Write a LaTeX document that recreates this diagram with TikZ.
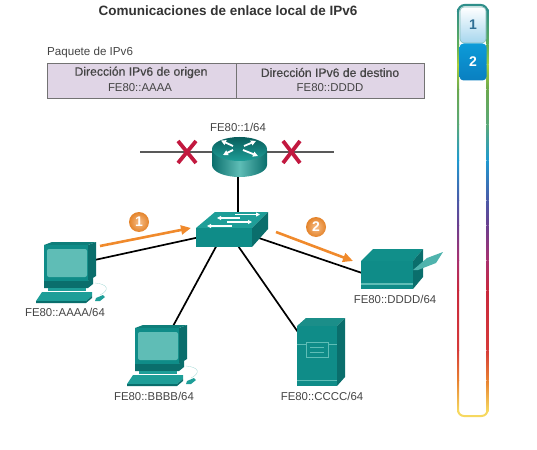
\documentclass[tikz,border=0pt]{standalone}
\usepackage{fontspec}
\setmainfont{Liberation Sans}
\usetikzlibrary{arrows.meta}
\definecolor{tealA}{HTML}{0F8C88}
\definecolor{tealB}{HTML}{1E9E98}
\definecolor{tealD}{HTML}{0A6E6C}
\definecolor{tealL}{HTML}{5FBDB6}
\definecolor{txt}{HTML}{444444}
\definecolor{orangeA}{HTML}{F08A2C}
\definecolor{crim}{HTML}{C2183F}
\definecolor{cellc}{HTML}{E0D5E6}
\tikzset{
  x=1pt,y=-1pt,
  lab/.style={font=\fontsize{11.4}{13}\selectfont,text=txt,inner sep=0pt,anchor=center},
  tabtxt/.style={lab,font=\fontsize{11.4}{13}\selectfont},
  headtxt/.style={lab,font=\fontsize{12.2}{14}\selectfont\addfontfeature{FakeBold=0.35}},
  cell/.style={draw=black!55,line width=.9pt,fill=cellc,minimum height=35pt,inner sep=0pt,anchor=north west},
  link/.style={draw=black,line width=1.7pt},
  wan/.style={draw=black!65,line width=1.6pt},
  flow/.style={draw=orangeA,line width=2.6pt,-{Triangle[length=10pt,width=9pt]}},
  badge/.style={circle,minimum size=20pt,inner sep=0pt,inner color=orangeA!55!white,outer color=orangeA!95!black,text=white,font=\bfseries\fontsize{14}{14}\selectfont},
  xmark/.style={draw=crim,line width=3.8pt},
  wharrow/.style={draw=white,line width=1.1pt,-{Triangle[length=4pt,width=4pt]}},
  rtarrow/.style={draw=white,line width=1.8pt,-{Triangle[length=5pt,width=5pt]}},
  pcdev/.pic={
    \fill[tealD] (88,245) -- (96,242) -- (96,276) -- (88,281) -- cycle;
    \fill[tealA!90!black] (44,245) -- (52,242) -- (96,242) -- (88,245) -- cycle;
    \fill[tealA] (44,245) rectangle (88,281);
    \fill[tealL,rounded corners=2pt] (47,249) rectangle (87,277);
    \fill[tealD] (44,281) -- (88,281) -- (93,277) -- (93,284) -- (88,288) -- (44,288) -- cycle;
    \fill[tealB] (48,288) rectangle (86,291);
    \fill[tealB] (42,292) -- (92,292) -- (92,296) -- (86,301) -- (36,301) -- cycle;
    \fill[tealD] (36,301) -- (86,301) -- (92,296) -- (92,298) -- (86,303) -- (36,303) -- cycle;
    \fill[tealB] (96,298) -- (103,295) -- (105,297) -- (100,301) -- (95,301) -- cycle;
    \draw[tealL!60!white,line width=.3pt] (100,295) .. controls (110,290) and (108,284) .. (95,283);
  }
}
\begin{document}
\begin{tikzpicture}
\useasboundingbox (0,0) rectangle (537,449);
% device anchors
\coordinate (rtA) at (238,170);
\coordinate (swT) at (238,215);
\coordinate (swW) at (200,237);
\coordinate (swE) at (250,235);
\coordinate (swS1) at (218,243);
\coordinate (swS2) at (236,243);
\coordinate (pcA) at (90,261);
\coordinate (pcB) at (172,328);
\coordinate (prn) at (365,274);
\coordinate (srv) at (300,335);
\coordinate (wanL) at (140,152);
\coordinate (wanR) at (334,152);
\coordinate (rtC) at (238,152);
\coordinate (f1a) at (100,246);
\coordinate (f1b) at (191,228);
\coordinate (f2a) at (276,232);
\coordinate (f2b) at (353,261);
% title and table
\node[font=\bfseries\fontsize{13.5}{15}\selectfont,text=black!80,inner sep=0pt] (title) at (228,11) {Comunicaciones de enlace local de IPv6};
\node[lab,font=\fontsize{11.6}{13}\selectfont,anchor=west] (pk) at (47,52.5) {Paquete de IPv6};
\node[cell,minimum width=189pt] (cL) at (47,63) {};
\node[cell,minimum width=188pt] (cR) at (236,63) {};
\node[headtxt] (a1) at (141,72.5) {Dirección IPv6 de origen};
\node[tabtxt] (a2) at (140,88) {FE80::AAAA};
\node[headtxt] (b1) at (330,72.5) {Dirección IPv6 de destino};
\node[tabtxt] (b2) at (330,88) {FE80::DDDD};
% links
\draw[wan] (wanL) -- (rtC);
\draw[wan] (rtC) -- (wanR);
\draw[link] (rtA) -- (swT);
\draw[link] (swW) -- (pcA);
\draw[link] (swE) -- (prn);
\draw[link] (swS1) -- (pcB);
\draw[link] (swS2) -- (srv);
% router
\shade[left color=tealD,right color=tealD,middle color=tealL] (212,150) -- (212,165) arc[start angle=180,end angle=360,x radius=27.5,y radius=-12] -- (267,150) -- cycle;
\shade[top color=tealD!85!black,bottom color=tealB] (239.5,149) ellipse[x radius=27.5,y radius=12];
\draw[rtarrow] (233,146) -- (221,140.5);
\draw[rtarrow] (243,150) -- (258,156);
\draw[rtarrow] (233,150) -- (223,155);
\draw[rtarrow] (244,146) -- (256,141);
% X marks
\draw[xmark] (178,141) -- (196,163);
\draw[xmark] (196,141) -- (178,163);
\draw[xmark] (283,141) -- (300,163);
\draw[xmark] (300,141) -- (283,163);
% switch
\fill[tealB] (196,228) -- (215,212) -- (268,212) -- (252,228) -- cycle;
\fill[tealA] (196,228) rectangle (252,247);
\fill[tealD] (252,228) -- (268,212) -- (268,229) -- (252,247) -- cycle;
\draw[wharrow] (235,214.5) -- (260,214.5);
\draw[wharrow] (240,218) -- (217,218);
\draw[wharrow] (227,222) -- (252,222);
\draw[wharrow] (232,226) -- (207,226);
% flows
\draw[flow] (f1a) -- (f1b);
\draw[flow] (f2a) -- (f2b);
\node[badge] (n1) at (139,222) {1};
\node[badge] (n2) at (316,227) {2};
% PCs
\pic (pc1) at (0,0) {pcdev};
\pic (pc2) at (91,83) {pcdev};
% printer
\fill[tealA!85!tealB] (361,261) -- (373,249) -- (423,249) -- (413,261) -- cycle;
\fill[tealD] (413,261) -- (423,249) -- (423,277) -- (413,289) -- cycle;
\fill[tealA] (361,261) rectangle (413,289);
\fill[tealL] (361,283) rectangle (413,284.5);
\fill[tealL!80!tealA] (413,270) -- (427,258) -- (443,252) -- (436,263) -- (418,270) -- cycle;
% server
\fill[tealB!90!black] (297,326) -- (306,318) -- (345,318) -- (337,326) -- cycle;
\fill[tealD] (337,326) -- (345,318) -- (345,377) -- (337,386) -- cycle;
\fill[tealA] (297,326) rectangle (337,386);
\draw[tealL,line width=.7pt] (297,344) -- (337,344);
\draw[tealL,line width=.7pt] (297,380) -- (337,380);
\draw[tealL,fill=tealA,line width=.9pt] (306,342) rectangle (328,357);
\draw[tealL,line width=.8pt] (310,347) -- (324,347);
\draw[tealL,line width=.8pt] (310,352) -- (324,352);
% labels
\node[lab] (l0) at (238,127) {FE80::1/64};
\node[lab] (l1) at (65,312) {FE80::AAAA/64};
\node[lab] (l2) at (154,396) {FE80::BBBB/64};
\node[lab] (l3) at (322,396) {FE80::CCCC/64};
\node[lab] (l4) at (395,299) {FE80::DDDD/64};
% rail
\def\railseg#1#2#3#4{%
  \shade[top color=#2,bottom color=#4] (457,#1) rectangle (459,#3);
  \shade[top color=#2,bottom color=#4] (486.5,#1) rectangle (488.5,#3);}
\definecolor{r0}{HTML}{2F8F8A}\definecolor{r1}{HTML}{5FAE5A}\definecolor{r2}{HTML}{A8CF3C}
\definecolor{r3}{HTML}{6AA84F}\definecolor{r4}{HTML}{5AA878}\definecolor{r5}{HTML}{1E9AD0}
\definecolor{r6}{HTML}{4A5AA8}\definecolor{r7}{HTML}{6A3F8F}\definecolor{r8}{HTML}{A83070}
\definecolor{r9}{HTML}{C8283C}\definecolor{r10}{HTML}{D63A3A}\definecolor{r11}{HTML}{E88030}
\definecolor{r12}{HTML}{F6D860}
\railseg{10}{r0}{45}{r1}\railseg{45}{r1}{65}{r2}\railseg{65}{r2}{90}{r3}
\railseg{90}{r3}{125}{r4}\railseg{125}{r4}{160}{r5}\railseg{160}{r5}{200}{r6}
\railseg{200}{r6}{225}{r7}\railseg{225}{r7}{260}{r8}\railseg{260}{r8}{290}{r9}
\railseg{290}{r9}{350}{r10}\railseg{350}{r10}{380}{r11}\railseg{380}{r11}{411}{r12}
\draw[r0,line width=2.2pt,rounded corners=7pt] (458,12) -- (458,5) -- (487.5,5) -- (487.5,12);
\draw[r12,line width=2pt,rounded corners=6pt] (458,410) -- (458,416) -- (487.5,416) -- (487.5,410);
\definecolor{tabfoot}{HTML}{A6D6EE}
\definecolor{tabink}{HTML}{2F6F94}
\definecolor{tabblueT}{HTML}{0C9BD8}
\definecolor{tabblueB}{HTML}{0A7FC0}
\node[draw=r0!60!white,line width=.6pt,rounded corners=4pt,top color=white,bottom color=tabfoot,minimum width=26pt,minimum height=36pt,inner sep=0pt,text=tabink,font=\bfseries\fontsize{14}{14}\selectfont] (tab1) at (473,25) {1};
\node[rounded corners=4pt,top color=tabblueT,bottom color=tabblueB,minimum width=27pt,minimum height=37pt,inner sep=0pt,text=white,font=\bfseries\fontsize{14}{14}\selectfont] (tab2) at (473,62) {2};
\end{tikzpicture}
\end{document}
